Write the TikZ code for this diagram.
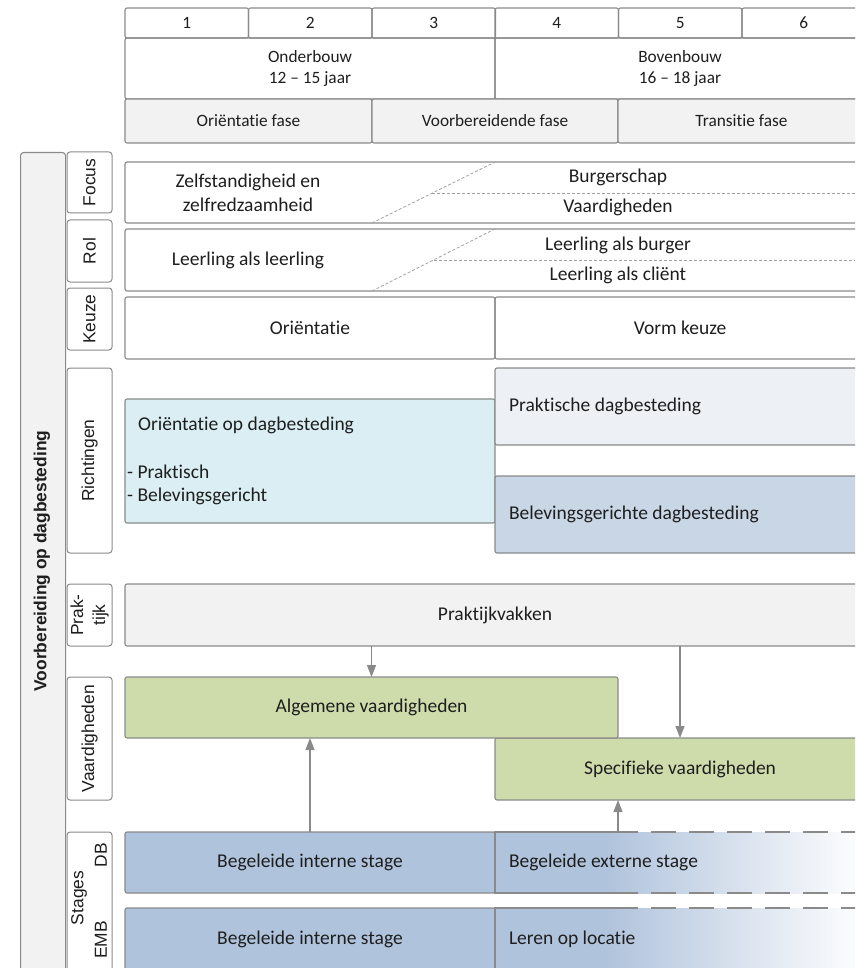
\documentclass[tikz,border=0pt]{standalone}
\usepackage{fontspec}
\setmainfont{Carlito}[Ligatures=NoCommon]
\newfontfamily\arialf{Liberation Sans}
\usetikzlibrary{calc,arrows.meta}
\definecolor{bgray}{HTML}{8A8A8A}
\definecolor{fgray}{HTML}{F2F2F2}
\definecolor{lblue}{HTML}{DAEEF3}
\definecolor{pblue}{HTML}{EDF1F6}
\definecolor{bblue}{HTML}{C9D6E6}
\definecolor{sblue}{HTML}{B0C3DC}
\definecolor{vgreen}{HTML}{CEDCAC}
\definecolor{txt}{HTML}{1E1E1E}
\tikzset{
 box/.style={draw=bgray, line width=1.1pt, rounded corners=2pt, inner sep=0pt, outer sep=0pt, anchor=north west, text=txt, font=\fontsize{19.5}{23.5}\selectfont, align=center},
 hbox/.style={box, font=\fontsize{17.3}{21}\selectfont},
 lbox/.style={box, align=flush left, inner xsep=14pt, text width=#1},
 tab/.style={draw=bgray, line width=1pt, rounded corners=3pt, fill=white, minimum width=45pt, anchor=north west, inner sep=0pt, outer sep=0pt},
 tablabel/.style={rotate=90, text=txt, font=\arialf\fontsize{17.4}{22}\selectfont, align=center, inner sep=0pt},
 flow/.style={draw=bgray, line width=1.2pt, -{Triangle[length=12pt,width=9pt]}},
 thindash/.style={draw=bgray!80, line width=0.8pt, dash pattern=on 3pt off 2pt},
 longdash/.style={draw=bgray, line width=1.1pt, dash pattern=on 25pt off 13pt},
 free/.style={text=txt, font=\fontsize{19.5}{23.5}\selectfont, inner sep=0pt, align=center},
}
\begin{document}
\begin{tikzpicture}[x=1pt,y=-1pt]
\useasboundingbox (0,0) rectangle (855,968);
\clip (0,0) rectangle (855,968);

% header
\foreach \i/\x in {1/125,2/248.5,3/372,4/495,5/618.5,6/742}
  \node[hbox, minimum width=123.5pt, minimum height=30pt] (yr\i) at (\x,8) {\i};
\node[hbox, minimum width=370pt, minimum height=61pt] (onder) at (125,38) {Onderbouw\\12 – 15 jaar};
\node[hbox, minimum width=370pt, minimum height=61pt] (boven) at (495,38) {Bovenbouw\\16 – 18 jaar};
\node[hbox, fill=fgray, minimum width=247pt, minimum height=44pt] (ofase) at (125,99) {Oriëntatie fase};
\node[hbox, fill=fgray, minimum width=246pt, minimum height=44pt] (vfase) at (372,99) {Voorbereidende fase};
\node[hbox, fill=fgray, minimum width=247pt, minimum height=44pt] (tfase) at (618,99) {Transitie fase};

% outer bar
\node[draw=bgray, line width=1.1pt, fill=fgray, rounded corners=3pt, minimum width=45pt, minimum height=830pt, anchor=north west, inner sep=0pt] (outer) at (20,152) {};
\node[tablabel, font=\arialf\bfseries\fontsize{17.4}{21}\selectfont] (outertxt) at (42,561) {Voorbereiding op dagbesteding};

% tabs
\node[tab, minimum height=61pt] (tfocus) at (67,152) {};
\node[tablabel] (lfocus) at (tfocus.center) {Focus};
\node[tab, minimum height=62pt] (trol) at (67,220) {};
\node[tablabel] (lrol) at (trol.center) {Rol};
\node[tab, minimum height=62pt] (tkeuze) at (67,288) {};
\node[tablabel] (lkeuze) at (tkeuze.center) {Keuze};
\node[tab, minimum height=185pt] (trich) at (67,368) {};
\node[tablabel] (lrich) at (trich.center) {Richtingen};
\node[tab, minimum height=62pt] (tprak) at (67,584) {};
\node[tablabel] (lprak) at (tprak.center) {Prak-\\tijk};
\node[tab, minimum height=123pt] (tvaar) at (67,677) {};
\node[tablabel] (lvaar) at (tvaar.center) {Vaardigheden};
\node[tab, minimum height=150pt] (tstag) at (67,832) {};
\node[tablabel] (lstages) at (79,898) {Stages};
\node[tablabel] (ldb) at (101,855) {DB};
\node[tablabel] (lemb) at (101,940) {EMB};

% focus
\node[box, minimum width=740pt, minimum height=61pt] (focus) at (125,162) {};
\node[free] (zelf) at (248,193) {Zelfstandigheid en\\zelfredzaamheid};
\coordinate (fd1) at (372,223); \coordinate (fd2) at (495,162);
\coordinate (fm) at (432,193); \coordinate (fr) at (865,193);
\draw[thindash] (fd1) -- (fd2);
\draw[thindash] (fm) -- (fr);
\node[free] (burg) at (618,177) {Burgerschap};
\node[free] (vaar) at (618,207) {Vaardigheden};

% rol
\node[box, minimum width=740pt, minimum height=62pt] (rol) at (125,229) {};
\node[free] (lal) at (248,260) {Leerling als leerling};
\coordinate (rd1) at (372,291); \coordinate (rd2) at (495,229);
\coordinate (rm) at (434,260); \coordinate (rr) at (865,260);
\draw[thindash] (rd1) -- (rd2);
\draw[thindash] (rm) -- (rr);
\node[free] (lab) at (618,245) {Leerling als burger};
\node[free] (lac) at (618,275) {Leerling als cliënt};

% keuze
\node[box, minimum width=370pt, minimum height=62pt] (korient) at (125,297) {Oriëntatie};
\node[box, minimum width=370pt, minimum height=62pt] (kvorm) at (495,297) {Vorm keuze};

% richtingen
\node[box, fill=lblue, minimum width=370pt, minimum height=124pt] (orient) at (125,399) {};
\node[free, anchor=west] (orientt) at (138,425) {Oriëntatie op dagbesteding};
\node[free, anchor=west] (or1) at (127,472) {- Praktisch};
\node[free, anchor=west] (or2) at (127,496) {- Belevingsgericht};
\node[lbox=342pt, fill=pblue, minimum width=370pt, minimum height=77pt] (prakt) at (495,368) {Praktische dagbesteding};
\node[lbox=342pt, fill=bblue, minimum width=370pt, minimum height=77pt] (belev) at (495,476) {Belevingsgerichte dagbesteding};

% praktijk
\node[box, fill=fgray, minimum width=740pt, minimum height=62pt] (praktijk) at (125,584) {Praktijkvakken};

% vaardigheden
\node[box, fill=vgreen, minimum width=370pt, minimum height=62pt] (spec) at (495,738) {Specifieke vaardigheden};
\node[box, fill=vgreen, minimum width=493pt, minimum height=61pt] (alg) at (125,677) {Algemene vaardigheden};

% stages
\node[box, fill=sblue, minimum width=370pt, minimum height=61pt] (intdb) at (125,832) {Begeleide interne stage};
\node[box, fill=sblue, minimum width=370pt, minimum height=62pt] (intemb) at (125,908) {Begeleide interne stage};

\fill[sblue] (495,832) rectangle (605,893);
\shade[left color=sblue, middle color=sblue!55, right color=white] (605,832) rectangle (866,893);
\fill[sblue] (495,908) rectangle (605,970);
\shade[left color=sblue, middle color=sblue!55, right color=white] (605,908) rectangle (866,970);

\node[lbox=342pt, draw=none, minimum width=370pt, minimum height=61pt] (extdb) at (495,832) {Begeleide externe stage};
\node[lbox=342pt, draw=none, minimum width=370pt, minimum height=62pt] (locatie) at (495,908) {Leren op locatie};

\draw[bgray, line width=1.1pt] ($(extdb.north west)+(118,0)$) -- (extdb.north west) -- (extdb.south west) -- ($(extdb.south west)+(118,0)$);
\draw[longdash] ($(extdb.north west)+(118,0)$) -- (extdb.north east);
\draw[longdash] ($(extdb.south west)+(118,0)$) -- (extdb.south east);
\draw[bgray, line width=1.1pt] ($(locatie.north west)+(118,0)$) -- (locatie.north west) -- (locatie.south west);
\draw[longdash] ($(locatie.north west)+(118,0)$) -- (locatie.north east);

% arrows
\draw[flow] (praktijk.south -| alg.north) -- (alg.north);
\draw[flow] (praktijk.south -| spec.north) -- (spec.north);
\draw[flow] (intdb.north) -- (intdb.north |- alg.south);
\draw[flow] (extdb.north -| alg.east) -- (alg.east |- spec.south);
\end{tikzpicture}
\end{document}
